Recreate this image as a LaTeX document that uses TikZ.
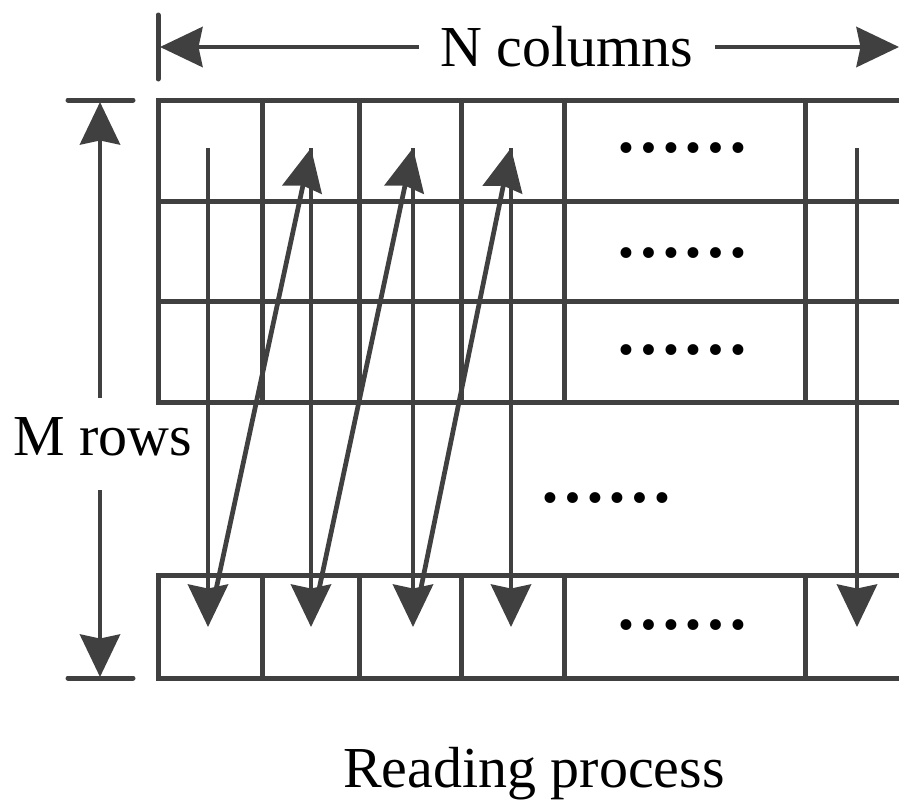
\documentclass[tikz,border=0pt]{standalone}
\usepackage{fontspec}
\setmainfont{LiberationSerif}[Extension=.ttf,UprightFont=*-Regular,BoldFont=*-Bold]
\usetikzlibrary{arrows.meta}
\definecolor{linegray}{HTML}{404040}

\tikzset{
  gridline/.style={draw=linegray, line width=0.1cm, line cap=rect},
  readarrow/.style={draw=linegray, line width=0.095cm,
    -{Stealth[length=0.85cm,width=0.8cm,inset=0.08cm]}},
  bar/.style={draw=linegray, line width=0.1cm, line cap=round},
  dots/.style={anchor=base, font=\fontsize{38}{40}\selectfont\bfseries},
}

\begin{document}
\begin{tikzpicture}
  [x=0.02cm,y=-0.02cm,font=\fontsize{33}{40}\selectfont]
  \useasboundingbox (0,0) rectangle (899,801);

  % the two blocks of cells
  \foreach \y in {100,201,301,402,575,678}
    \draw[gridline] (158,\y) -- (899,\y);
  \foreach \x in {158,262,359,461,564,805} {
    \draw[gridline] (\x,100) -- (\x,402);
    \draw[gridline] (\x,575) -- (\x,678);
  }

  \foreach \y/\n in {152/1,257/2,354/3,629/5}
    \node[dots] (d\n) at (682,\y) {……};
  \node[dots] (d4) at (606,502) {……};

  % reading order
  \coordinate (t1) at (208,148);
  \coordinate (t2) at (311,148);
  \coordinate (t3) at (413,148);
  \coordinate (t4) at (511,148);
  \coordinate (t5) at (857,148);
  \coordinate (b1) at (208,627);
  \coordinate (b2) at (311,627);
  \coordinate (b3) at (413,627);
  \coordinate (b4) at (511,627);
  \coordinate (b5) at (857,627);

  \foreach \i in {1,...,5}
    \draw[readarrow] (t\i) -- (b\i);
  \foreach \from/\to in {b1/t2,b2/t3,b3/t4}
    \draw[readarrow, shorten <=0.4cm] (\from) -- (\to);

  % size labels
  \node[inner xsep=0.42cm] (ncol) at (567,47) {N columns};
  \coordinate (nl) at (160,47);
  \coordinate (nr) at (899,47);
  \draw[readarrow] (ncol) -- (nl);
  \draw[readarrow] (ncol) -- (nr);
  \draw[bar] (158,15) -- (158,79);

  \node (mrow) at (103,437) {M rows};
  \coordinate (mu) at (100,398);
  \coordinate (mt) at (100,102);
  \coordinate (md) at (100,490);
  \coordinate (mb) at (100,677);
  \draw[readarrow] (mu) -- (mt);
  \draw[readarrow] (md) -- (mb);
  \draw[bar] (68,100) -- (133,100);
  \draw[bar] (68,678) -- (133,678);

  \node[anchor=base] (caption) at (534,787) {Reading process};

\end{tikzpicture}
\end{document}
